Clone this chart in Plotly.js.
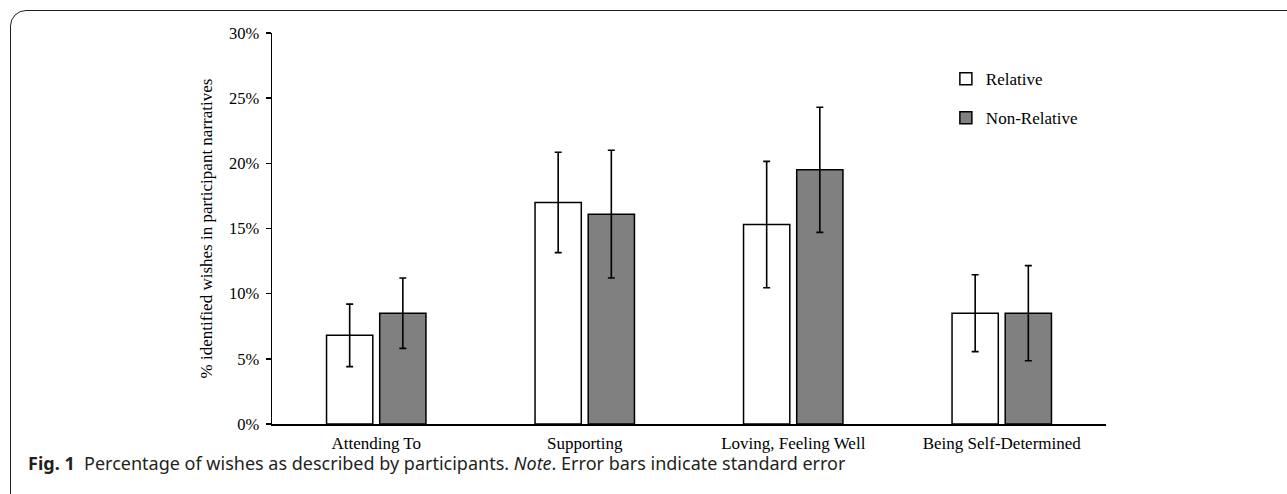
<!DOCTYPE html>
<html>
<head>
<meta charset="utf-8">
<script src="https://cdn.plot.ly/plotly-3.0.1.min.js"></script>
<style>
  html, body { margin: 0; padding: 0; background: #ffffff; overflow: hidden; }
  #card { position: absolute; left: 10px; top: 10px; width: 1320px; height: 520px;
          border: 1.4px solid #231f20; border-radius: 16px; box-sizing: border-box; }
  #chart { position: absolute; left: 0; top: 0; width: 1287px; height: 494px; }
</style>
</head>
<body>
<div id="card"></div>
<div id="chart"></div>
<script>
// Data (percent)
const categories = ["Attending To", "Supporting", "Loving, Feeling Well", "Being Self-Determined"];
const relativeValues = [6.8, 17.0, 15.3, 8.5];
const relativeSE = [2.4, 3.85, 4.85, 2.95];
const nonRelativeValues = [8.5, 16.1, 19.5, 8.5];
const nonRelativeSE = [2.7, 4.9, 4.8, 3.65];
const yTickVals = [0, 5, 10, 15, 20, 25, 30];
const yTickText = ["0%", "5%", "10%", "15%", "20%", "25%", "30%"];

const serif = "Liberation Serif, Times New Roman, serif";

const errStyle = { type: "data", visible: true, color: "#000000", thickness: 1.6, width: 3.5 };

const traces = [
  {
    type: "bar", name: "Relative", x: categories, y: relativeValues,
    marker: { color: "#ffffff", line: { color: "#000000", width: 1.5 } },
    error_y: Object.assign({ array: relativeSE }, errStyle),
    legendgroup: "a", hoverinfo: "none"
  },
  {
    type: "bar", name: "Non-Relative", x: categories, y: nonRelativeValues,
    marker: { color: "#808080", line: { color: "#000000", width: 1.5 } },
    error_y: Object.assign({ array: nonRelativeSE }, errStyle),
    legendgroup: "b", hoverinfo: "none"
  }
];

const layout = {
  width: 1287, height: 494,
  margin: { l: 272, r: 181, t: 33, b: 70 },
  paper_bgcolor: "rgba(0,0,0,0)",
  plot_bgcolor: "rgba(0,0,0,0)",
  barmode: "group",
  bargap: 0.49,
  bargroupgap: 0.13,
  showlegend: true,
  legend: {
    x: 0.808, xanchor: "left", y: 0.928, yanchor: "top",
    font: { family: serif, size: 17, color: "#000000" },
    traceorder: "grouped", tracegroupgap: 14,
    bgcolor: "rgba(0,0,0,0)"
  },
  xaxis: {
    type: "category",
    showline: true, linecolor: "#000000", linewidth: 1.5,
    ticks: "", showgrid: false, zeroline: false,
    tickfont: { family: serif, size: 17, color: "#000000" },
    ticklabelstandoff: 3,
    fixedrange: true
  },
  yaxis: {
    range: [0, 30],
    tickvals: yTickVals, ticktext: yTickText,
    showline: true, linecolor: "#000000", linewidth: 1.5,
    ticks: "outside", ticklen: 5, tickwidth: 1.5, tickcolor: "#000000",
    ticklabelstandoff: 3,
    showgrid: false, zeroline: false,
    tickfont: { family: serif, size: 16.5, color: "#000000" },
    title: { text: "% identified wishes in participant narratives",
             font: { family: serif, size: 17, color: "#000000" }, standoff: 12 },
    fixedrange: true
  },
  annotations: [
    {
      xref: "paper", yref: "paper",
      x: (26 - 272) / 834, y: (424 - 463) / 391,
      xanchor: "left", yanchor: "middle", showarrow: false,
      text: "<b>Fig. 1</b>  Percentage of wishes as described by participants. <i>Note</i>. Error bars indicate standard error",
      font: { family: "Noto Sans, Open Sans, sans-serif", size: 18, color: "#231f20" }
    }
  ]
};

Plotly.newPlot("chart", traces, layout, { displayModeBar: false, staticPlot: true });
</script>
</body>
</html>
